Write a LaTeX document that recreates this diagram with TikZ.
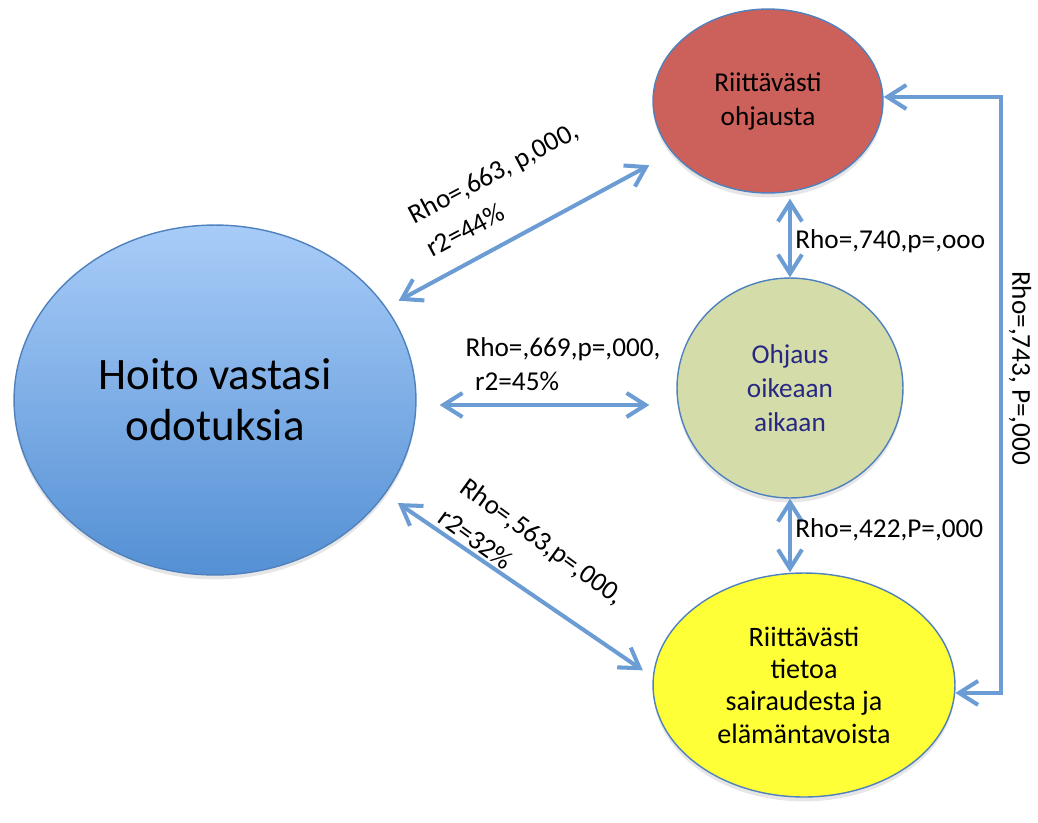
\documentclass[tikz,border=0pt]{standalone}
\usepackage{fontspec}
\setmainfont{Carlito}
\usetikzlibrary{calc, shapes, arrows.meta, positioning, shadows}

\definecolor{linkblue}{RGB}{108,156,212}
\definecolor{rimblue}{RGB}{79,129,189}
\definecolor{topblue}{RGB}{168,204,248}
\definecolor{lowblue}{RGB}{84,144,212}
\definecolor{brick}{RGB}{204,96,90}
\definecolor{sage}{RGB}{212,221,170}
\definecolor{lemon}{RGB}{255,255,56}
\definecolor{inkblue}{RGB}{40,40,130}

\begin{document}
\begin{tikzpicture}[x=0.02cm, y=-0.02cm,
    blob/.style={ellipse, draw=rimblue, line width=0.8pt, inner sep=0pt, align=center,
                 font=\fontsize{15.5}{19.3}\selectfont,
                 drop shadow={opacity=0.2, shadow xshift=0pt, shadow yshift=-2.5pt}},
    link/.style={draw=linkblue, line width=2.3pt,
                 {Straight Barb[length=3.8mm, width=4.8mm]}-{Straight Barb[length=3.8mm, width=4.8mm]}},
    stat/.style={font=\fontsize{15.5}{19.3}\selectfont, align=left, inner sep=0pt},
    tilted/.style={stat, font=\fontsize{15.5}{21.5}\selectfont}]

  \useasboundingbox (0,0) rectangle (1038,822);

  % the four variables
  \node[blob, top color=topblue, bottom color=lowblue,
        minimum width=8.04cm, minimum height=7cm,
        font=\fontsize{25.6}{29}\selectfont] (hoito) at (215,400) {Hoito vastasi\\odotuksia};
  \node[blob, fill=brick, minimum width=4.6cm, minimum height=3.68cm]
        (ohjaus) at (768,101) {Riittävästi\\ohjausta};
  \node[blob, fill=sage, text=inkblue, minimum width=4.52cm, minimum height=4.4cm]
        (aika) at (790,388) {Ohjaus\\oikeaan\\aikaan};
  \node[blob, fill=lemon, minimum width=6.04cm, minimum height=4.48cm,
        font=\fontsize{16}{18.4}\selectfont]
        (tieto) at (804,685) {Riittävästi\\tietoa\\sairaudesta ja\\elämäntavoista};

  % correlations
  \draw[link, shorten <=0.28cm, shorten >=0.52cm] (hoito) -- (ohjaus);
  \draw[link, shorten <=0.46cm, shorten >=0.54cm] (hoito.east |- 0,405) -- (aika.west |- 0,405);
  \draw[link, shorten <=0.31cm, shorten >=0.24cm] (hoito.-29) -- (tieto.177);
  \draw[link, shorten <=0.1cm] (ohjaus.south -| aika.north) -- (aika.north);
  \draw[link] (aika.south) -- (aika.south |- tieto.north);
  \draw[link] (ohjaus.2) -- ++(117,0) |- (tieto.-3.5);

  \node[tilted, rotate=28] (r1) at (502,189) {Rho=,663, p,000,\\r2=44\%};
  \node[stat] (r2) at (563,364) {Rho=,669,p=,000,\\\hspace{0.35em}r2=45\%};
  \node[tilted, rotate=-36] (r3) at (532,556) {Rho=,563,p=,000,\\r2=32\%};
  \node[stat, anchor=west] (r4) at (795,241) {Rho=,740,p=,ooo};
  \node[stat, anchor=west] (r5) at (795,530) {Rho=,422,P=,000};
  \node[stat, rotate=-90] (r6) at (1020,368) {Rho=,743, P=,000};

\end{tikzpicture}
\end{document}
